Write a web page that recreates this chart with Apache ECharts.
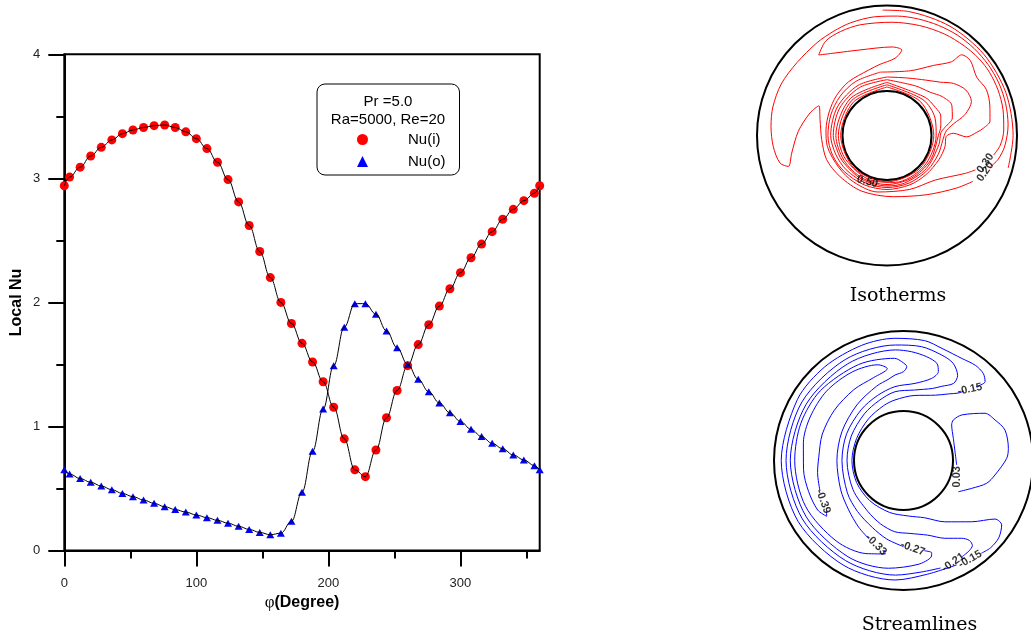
<!DOCTYPE html>
<html><head><meta charset="utf-8">
<script src="https://cdn.jsdelivr.net/npm/echarts@6/dist/echarts.min.js"></script>
<style>html,body{margin:0;padding:0;background:#fff}#c{width:1031px;height:639px}</style>
</head><body><div id="c"></div>
<script>
// ---------- Local Nu chart data ----------
const phi = [0,4,12,20,28,36,44,52,60,68,76,84,92,100,108,116,124,132,140,148,156,164,172,180,188,196,204,212,220,228,236,244,252,260,268,276,284,292,300,308,316,324,332,340,348,356,360];
const nuInner = [2.94,3.01,3.09,3.18,3.25,3.31,3.36,3.39,3.41,3.425,3.43,3.41,3.375,3.32,3.24,3.13,2.99,2.81,2.62,2.41,2.20,2.00,1.83,1.67,1.52,1.36,1.155,0.90,0.65,0.595,0.81,1.07,1.29,1.49,1.66,1.82,1.97,2.11,2.24,2.36,2.47,2.57,2.67,2.75,2.82,2.88,2.94];
const nuOuter = [0.65,0.617,0.58,0.55,0.52,0.49,0.46,0.434,0.407,0.38,0.353,0.33,0.31,0.286,0.265,0.243,0.22,0.195,0.17,0.146,0.127,0.14,0.235,0.47,0.80,1.14,1.49,1.80,1.99,1.99,1.905,1.77,1.635,1.50,1.38,1.28,1.19,1.11,1.04,0.977,0.918,0.864,0.82,0.77,0.73,0.684,0.65];
const xMajorTicks = [0,100,200,300];
const xMinorTicks = [50,150,250,350];
const seriesNames = ['Nu(i)','Nu(o)'];
const legendTitle = ['Pr =5.0','Ra=5000, Re=20'];

// ---------- Isotherm contours: [r (outer wall = 1), angle deg] ----------
const iso010 = [[0.965,92],[0.968,80],[0.97,60],[0.972,40],[0.972,20],[0.97,0],[0.965,345]];
const iso020 = [[0.83,343],[0.875,348],[0.91,355],[0.935,5],[0.945,15],[0.95,25],[0.95,35],[0.947,45],[0.943,55],[0.935,65],[0.928,75],[0.922,85],[0.918,96],[0.911,108],[0.901,117],[0.894,127],[0.891,141],[0.905,154],[0.905,166],[0.895,175.5],[0.879,185.5],[0.85,194.4],[0.795,197.4],[0.745,190.4],[0.683,177.3],[0.617,163.7],[0.571,156.4],[0.529,166.7],[0.503,183.6],[0.50,201.8],[0.48,221],[0.47,245.7],[0.473,275.9],[0.548,303.8],[0.671,323],[0.75,332]];
const iso030 = [[0.834,349.6],[0.875,355.2],[0.899,2.7],[0.914,12.4],[0.923,22.3],[0.926,31.7],[0.922,39.8],[0.91,49.2],[0.897,60.5],[0.882,73.4],[0.872,87.5],[0.876,103.6],[0.876,114],[0.866,123],[0.812,130.3],[0.75,122.2],[0.69,107.5],[0.682,86.8],[0.667,80.2],[0.597,84.1],[0.55,95.6],[0.523,105.6],[0.508,125.5],[0.495,141.9],[0.48,157.8],[0.471,174.8],[0.466,190.6],[0.445,213],[0.44,234.5],[0.44,260.8],[0.45,293],[0.505,317.3],[0.669,334.2],[0.729,338.7]];
const iso040 = [[0.49,96],[0.53,70],[0.646,56.5],[0.754,48.8],[0.846,47.2],[0.862,42],[0.823,33],[0.842,25],[0.823,16],[0.80,8],[0.743,4.3],[0.69,2],[0.613,359],[0.51,1.9],[0.455,359],[0.454,349],[0.44,335],[0.425,315],[0.418,295],[0.415,270],[0.418,245],[0.43,220],[0.445,200],[0.454,180],[0.46,160],[0.47,140],[0.48,120],[0.49,96]];
const iso050 = [[0.45,90],[0.47,70],[0.52,55],[0.58,45],[0.65,38],[0.70,30],[0.70,22],[0.62,15],[0.52,10],[0.46,5],[0.44,0],[0.43,355],[0.42,340],[0.41,320],[0.403,295],[0.40,270],[0.40,245],[0.41,220],[0.42,200],[0.433,180],[0.44,150],[0.445,120],[0.45,90]];
const iso060 = [[0.429,90],[0.44,60],[0.47,45],[0.52,35],[0.55,25],[0.52,15],[0.45,8],[0.415,3],[0.405,350],[0.395,320],[0.39,290],[0.388,270],[0.388,240],[0.395,210],[0.405,190],[0.413,180],[0.42,150],[0.425,120],[0.429,90]];
const iso070 = [[0.408,90],[0.415,45],[0.43,30],[0.44,20],[0.42,10],[0.395,0],[0.385,330],[0.378,300],[0.377,270],[0.378,240],[0.382,210],[0.393,180],[0.40,135],[0.408,90]];
const iso080 = [[0.39,90],[0.39,45],[0.393,20],[0.378,0],[0.37,320],[0.366,280],[0.366,250],[0.367,210],[0.374,180],[0.382,135],[0.39,90]];
const iso090 = [[0.373,90],[0.366,45],[0.36,0],[0.357,315],[0.356,270],[0.356,225],[0.356,180],[0.364,135],[0.373,90]];
const isoLabels = [[0.806,339.8,'0.20'],[0.786,344.2,'0.30'],[0.385,247,'0.50']];
const isoLabelRotation = [55,55,-15];

// ---------- Streamline contours ----------
const sf015a = [[0.80,45.5],[0.876,44],[0.912,47.5],[0.921,53],[0.908,60],[0.915,71],[0.94,80],[0.946,94],[0.946,110],[0.945,130],[0.945,150],[0.944,180],[0.94,210],[0.932,240],[0.925,266],[0.897,282],[0.905,297]];
const sf015b = [[0.935,310],[0.952,315],[0.947,321],[0.907,326.7],[0.839,327.4],[0.707,318],[0.571,304],[0.47,290],[0.43,275],[0.415,255],[0.405,230],[0.40,205],[0.398,180],[0.40,155],[0.42,130],[0.45,110],[0.472,98],[0.51,80],[0.561,64],[0.62,56],[0.67,51],[0.71,49]];
const sf021 = [[0.87,301],[0.862,306],[0.845,309],[0.80,309.5],[0.75,306.8],[0.68,298],[0.606,288],[0.565,275],[0.554,263],[0.52,250],[0.48,235],[0.45,210],[0.436,180],[0.445,155],[0.47,130],[0.50,112],[0.535,97],[0.551,81],[0.60,68],[0.642,63],[0.71,57],[0.778,57.5],[0.843,63],[0.866,70],[0.89,81],[0.894,94],[0.90,120],[0.905,150],[0.907,180],[0.902,210],[0.893,240],[0.887,266],[0.872,279],[0.878,289]];
const sf027 = [[0.665,270],[0.62,258],[0.57,245],[0.53,228],[0.50,210],[0.475,180],[0.485,155],[0.51,130],[0.54,112],[0.574,96.6],[0.602,81.5],[0.671,71],[0.737,68.6],[0.793,71],[0.821,77.4],[0.842,85.7],[0.856,94],[0.862,120],[0.868,150],[0.874,180],[0.868,210],[0.858,240],[0.84,262],[0.81,278],[0.775,286],[0.745,287],[0.715,283]];
const sf033 = [[0.66,246],[0.62,236],[0.57,222],[0.535,205],[0.514,180],[0.525,155],[0.56,130],[0.61,110],[0.64,100],[0.663,95.7],[0.686,90],[0.725,88],[0.763,91],[0.792,95],[0.818,115],[0.838,140],[0.843,160],[0.840,180],[0.835,205],[0.81,230],[0.775,248],[0.735,259],[0.71,258]];
const sf039 = [[0.686,200],[0.67,188],[0.655,178],[0.659,162],[0.66,144],[0.668,125],[0.68,110],[0.72,100],[0.765,105],[0.79,120],[0.80,138],[0.795,155],[0.785,170],[0.775,185],[0.771,198],[0.765,210],[0.733,216],[0.71,213]];
const sf003 = [[0.412,355.2],[0.421,24],[0.462,36.4],[0.496,39.1],[0.571,38],[0.727,30.1],[0.773,23.9],[0.818,16.7],[0.815,6.6],[0.797,1.2],[0.715,351],[0.666,344.7],[0.569,337.8],[0.487,330.3]];
const sfLabels = [[0.752,47,'-0.15'],[0.92,304,'-0.15'],[0.875,296,'-0.21'],[0.682,276,'-0.27'],[0.684,252,'-0.33'],[0.696,207,'-0.39'],[0.429,343,'0.03']];
const sfLabelRotation = [12,30,35,-20,-45,-70,90];
const panelTitles = ['Isotherms','Streamlines'];

// ---------- build ----------
const pair = (xs, ys) => xs.map((x, i) => [x, ys[i]]);
function contour(data, polarIndex, color) {
  return {type:'line', coordinateSystem:'polar', polarIndex, data, symbol:'none', smooth:0.3,
    lineStyle:{color, width:1}, silent:true, z:3, clip:false};
}
function contourLabels(labels, rot, polarIndex) {
  return {type:'scatter', coordinateSystem:'polar', polarIndex, symbolSize:0.1, silent:true, z:6,
    itemStyle:{color:'rgba(0,0,0,0)'},
    data: labels.map((l, i) => ({value:[l[0], l[1]], name:l[2], label:{rotate:rot[i]}})),
    label:{show:true, position:'inside', formatter:p => p.name, fontSize:11, fontWeight:'bold', color:'#000', fontFamily:'Liberation Sans'}};
}
const angleAxisBase = {type:'value', min:0, max:360, startAngle:0, clockwise:false,
  axisLine:{show:true, lineStyle:{color:'#000', width:2}}, axisTick:{show:false}, axisLabel:{show:false},
  splitLine:{show:false}, splitArea:{show:false}};

const chart = echarts.init(document.getElementById('c'));
chart.setOption({
  animation:false,
  textStyle:{fontFamily:'Liberation Sans'},
  grid:[{left:64.3, top:54.3, width:475.4, height:496.2, show:true, borderColor:'#000', borderWidth:2}],
  polar:[{center:[887,135.5], radius:[44.5,130]}, {center:[903.5,460.5], radius:[49.5,129.5]}],
  angleAxis:[Object.assign({polarIndex:0}, angleAxisBase), Object.assign({polarIndex:1}, angleAxisBase)],
  radiusAxis:[
    {polarIndex:0, type:'value', min:0.342, max:1, show:false},
    {polarIndex:1, type:'value', min:0.382, max:1, show:false}
  ],
  xAxis:[
    {gridIndex:0, type:'value', min:0, max:360, interval:100,
      axisLine:{lineStyle:{color:'#000', width:2}},
      axisTick:{show:true, length:16, customValues:xMajorTicks, lineStyle:{color:'#000', width:2}},
      axisLabel:{customValues:xMajorTicks, margin:26, fontSize:13, color:'#222'},
      splitLine:{show:false},
      name:'{a|φ}{b|(Degree)}', nameLocation:'middle', nameGap:44,
      nameTextStyle:{rich:{a:{fontFamily:'Liberation Serif', fontSize:17, color:'#000'}, b:{fontFamily:'Liberation Sans', fontWeight:'bold', fontSize:16, color:'#000'}}}},
    {gridIndex:0, type:'value', min:0, max:360, position:'bottom',
      axisLine:{show:false}, axisLabel:{show:false}, splitLine:{show:false},
      axisTick:{show:true, length:8, customValues:xMinorTicks, lineStyle:{color:'#000', width:2}}}
  ],
  yAxis:[{gridIndex:0, type:'value', min:0, max:4, interval:1,
    axisLine:{show:true, lineStyle:{color:'#000', width:2}},
    axisTick:{show:true, length:16, lineStyle:{color:'#000', width:2}},
    minorTick:{show:true, splitNumber:2, length:8, lineStyle:{color:'#000', width:2}},
    axisLabel:{margin:24, fontSize:13, color:'#222'},
    splitLine:{show:false}, minorSplitLine:{show:false},
    name:'Local Nu', nameLocation:'middle', nameGap:40,
    nameTextStyle:{fontWeight:'bold', fontSize:16, color:'#000'}}],
  legend:{data:seriesNames, orient:'vertical', left:317, top:84, itemWidth:11, itemHeight:11, itemGap:7,
    padding:[48,14,6,40], borderColor:'#000', borderWidth:1, borderRadius:8, selectedMode:false,
    textStyle:{fontSize:15, color:'#000', lineHeight:15, padding:[0,0,0,35]}},
  graphic:[
    {type:'text', x:388, y:101.7, silent:true, style:{text:legendTitle[0], font:'15px "Liberation Sans"', fill:'#000', align:'center', verticalAlign:'middle'}},
    {type:'text', x:388, y:120, silent:true, style:{text:legendTitle[1], font:'15px "Liberation Sans"', fill:'#000', align:'center', verticalAlign:'middle'}},
    {type:'text', x:898, y:296, silent:true, style:{text:panelTitles[0], font:'19px "DejaVu Serif"', fill:'#000', align:'center', verticalAlign:'middle'}},
    {type:'text', x:919.5, y:625, silent:true, style:{text:panelTitles[1], font:'19px "DejaVu Serif"', fill:'#000', align:'center', verticalAlign:'middle'}}
  ],
  series:[
    {name:seriesNames[0], type:'scatter', xAxisIndex:0, yAxisIndex:0, data:pair(phi, nuInner), symbol:'circle', symbolSize:9, itemStyle:{color:'#ff0000', opacity:1}, z:2},
    {name:seriesNames[1], type:'scatter', xAxisIndex:0, yAxisIndex:0, data:pair(phi, nuOuter), symbol:'triangle', symbolSize:[8,7], itemStyle:{color:'#0000ff', opacity:1}, z:2},
    {name:'fit-i', type:'line', xAxisIndex:0, yAxisIndex:0, data:pair(phi, nuInner), symbol:'none', smooth:0.4, smoothMonotone:'x', lineStyle:{color:'#000', width:1}, z:3, silent:true},
    {name:'fit-o', type:'line', xAxisIndex:0, yAxisIndex:0, data:pair(phi, nuOuter), symbol:'none', smooth:0.4, smoothMonotone:'x', lineStyle:{color:'#000', width:1}, z:3, silent:true},
    contour(iso010, 0, '#ff0000'), contour(iso020, 0, '#ff0000'), contour(iso030, 0, '#ff0000'),
    contour(iso040, 0, '#ff0000'), contour(iso050, 0, '#ff0000'), contour(iso060, 0, '#ff0000'),
    contour(iso070, 0, '#ff0000'), contour(iso080, 0, '#ff0000'), contour(iso090, 0, '#ff0000'),
    contourLabels(isoLabels, isoLabelRotation, 0),
    contour(sf015a, 1, '#0000ff'), contour(sf015b, 1, '#0000ff'), contour(sf021, 1, '#0000ff'),
    contour(sf027, 1, '#0000ff'), contour(sf033, 1, '#0000ff'), contour(sf039, 1, '#0000ff'),
    contour(sf003, 1, '#0000ff'),
    contourLabels(sfLabels, sfLabelRotation, 1)
  ]
});
</script>
</body></html>
